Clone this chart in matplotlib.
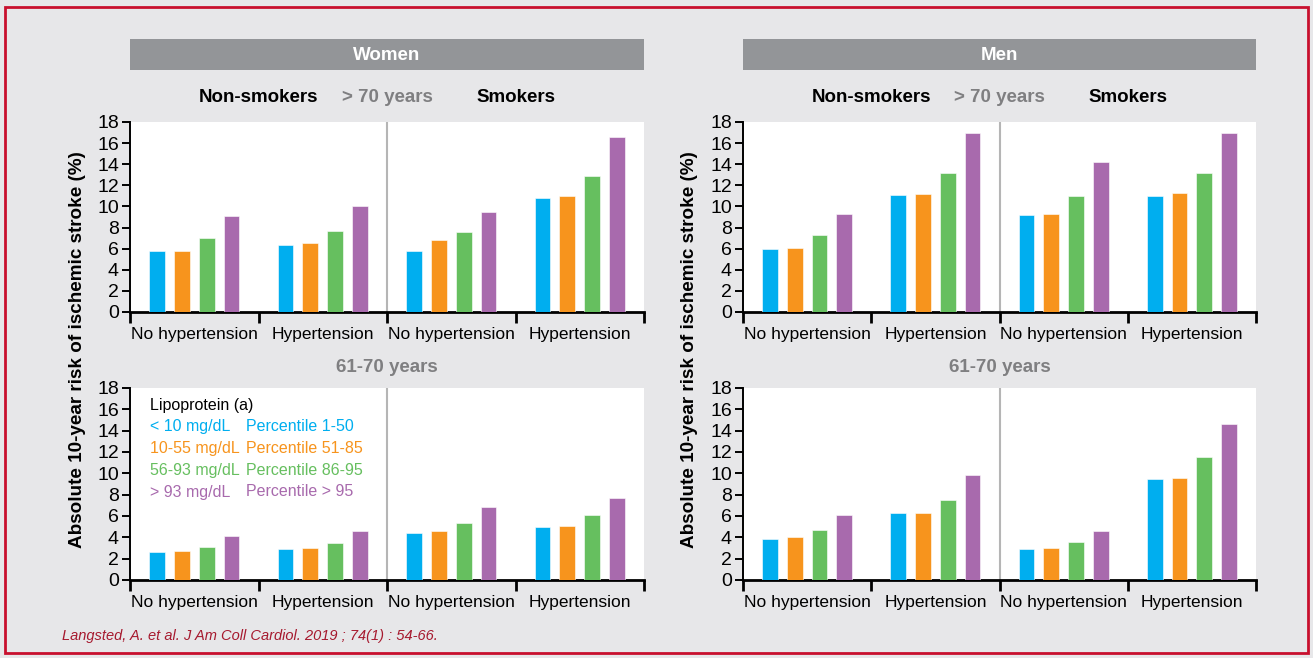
import numpy as np
import matplotlib
matplotlib.use('Agg')
import matplotlib.pyplot as plt
from matplotlib.patches import Rectangle

plt.rcParams['font.family'] = ['Liberation Sans Narrow', 'Liberation Sans', 'DejaVu Sans']

# ── data ─────────────────────────────────────────────────────────
groups = ["No hypertension", "Hypertension", "No hypertension", "Hypertension"]
series_colors = ["#00aeef", "#f7941d", "#66bf5f", "#a86aad"]
lpa_levels = ["< 10 mg/dL", "10-55 mg/dL", "56-93 mg/dL", "> 93 mg/dL"]
lpa_pct = ["Percentile 1-50", "Percentile 51-85", "Percentile 86-95", "Percentile > 95"]

# rows = group (NS no HT, NS HT, S no HT, S HT), cols = Lp(a) category
women_over70 = [[5.8, 5.8, 7.0, 9.1],
                [6.3, 6.5, 7.7, 10.0],
                [5.8, 6.8, 7.6, 9.5],
                [10.8, 11.0, 12.9, 16.6]]
women_61_70 = [[2.6, 2.7, 3.1, 4.1],
               [2.9, 3.0, 3.5, 4.6],
               [4.4, 4.6, 5.3, 6.8],
               [5.0, 5.1, 6.1, 7.7]]
men_over70 = [[6.0, 6.1, 7.3, 9.3],
              [11.1, 11.2, 13.2, 17.0],
              [9.2, 9.3, 11.0, 14.2],
              [11.0, 11.3, 13.2, 17.0]]
men_61_70 = [[3.8, 4.0, 4.7, 6.1],
             [6.3, 6.3, 7.5, 9.8],
             [2.9, 3.0, 3.6, 4.6],
             [9.5, 9.6, 11.5, 14.6]]

W, H = 1313, 658
BG = "#e7e7e9"
RED = "#c8102e"
GREY_TXT = "#7f7f81"

fig = plt.figure(figsize=(W / 100, H / 100), dpi=100, facecolor=BG)


def fx(x):
    return x / W


def fy(y):
    return 1 - y / H


def add_ax(x0, x1, y0, y1):
    return fig.add_axes([fx(x0), fy(y1), fx(x1) - fx(x0), (y1 - y0) / H])


def draw_panel(ax, values):
    values = np.array(values)
    offsets = np.array([-0.29, -0.097, 0.097, 0.29])
    for k in range(4):
        ax.bar(np.arange(4) + 0.5 + offsets[k], values[:, k], width=0.122,
               color=series_colors[k], edgecolor="white", linewidth=0.4, zorder=3)
    ax.set_xlim(0, 4)
    ax.set_ylim(0, 18)
    ax.set_facecolor("white")
    ax.axvline(2, color="#b5b5b5", linewidth=1.5, zorder=2)
    for s in ["top", "right"]:
        ax.spines[s].set_visible(False)
    ax.spines["bottom"].set_linewidth(2.0)
    ax.spines["left"].set_linewidth(1.4)
    ax.set_yticks(np.arange(0, 19, 2))
    ax.tick_params(axis="y", labelsize=14, length=6, width=1.4, pad=2)
    ax.set_xticks([0, 1, 2, 3, 4])
    ax.set_xticklabels([])
    ax.tick_params(axis="x", length=8, width=2.0)
    ax.set_xticks(np.arange(4) + 0.5, minor=True)
    ax.set_xticklabels(groups, minor=True, fontsize=12.5)
    ax.tick_params(axis="x", which="minor", length=0, pad=11)


panels = [
    (130, 644, women_over70, women_61_70, "Women", 78),
    (743, 1256, men_over70, men_61_70, "Men", 689),
]

for x0, x1, top_vals, bot_vals, title, ylab_x in panels:
    ax_top = add_ax(x0, x1, 122, 312)
    ax_bot = add_ax(x0, x1, 388, 580)
    draw_panel(ax_top, top_vals)
    draw_panel(ax_bot, bot_vals)

    # grey header bar
    fig.patches.append(Rectangle((fx(x0), fy(70)), fx(x1) - fx(x0), 31 / H,
                                 transform=fig.transFigure, facecolor="#939598",
                                 edgecolor="none"))
    xm = (x0 + x1) / 2
    fig.text(fx(xm), fy(55), title, color="white", fontsize=13.5,
             fontweight="bold", ha="center", va="center")
    fig.text(fx((x0 + xm) / 2), fy(97), "Non-smokers", fontsize=13.5,
             fontweight="bold", ha="center", va="center")
    fig.text(fx(xm), fy(97), "> 70 years", fontsize=13.5, color=GREY_TXT,
             fontweight="bold", ha="center", va="center")
    fig.text(fx((xm + x1) / 2), fy(97), "Smokers", fontsize=13.5,
             fontweight="bold", ha="center", va="center")
    fig.text(fx(xm), fy(367), "61-70 years", fontsize=13.5, color=GREY_TXT,
             fontweight="bold", ha="center", va="center")
    fig.text(fx(ylab_x), fy(350), "Absolute 10-year risk of ischemic stroke (%)",
             fontsize=13.6, fontweight="bold", rotation=90, ha="center", va="center")

    if title == "Women":
        ax_bot.text(0.155, 16.4, "Lipoprotein (a)", fontsize=11.5, va="center", zorder=5)
        rows_y = [14.4, 12.35, 10.3, 8.25]
        for k in range(4):
            ax_bot.text(0.155, rows_y[k], lpa_levels[k], color=series_colors[k],
                        fontsize=11.5, va="center", zorder=5)
            ax_bot.text(0.9, rows_y[k], lpa_pct[k], color=series_colors[k],
                        fontsize=11.5, va="center", zorder=5)

fig.text(fx(62), fy(636), "Langsted, A. et al. J Am Coll Cardiol. 2019 ; 74(1) : 54-66.",
         fontsize=10.5, style="italic", color="#a6192e", ha="left", va="center")

# red frame
fig.patches.append(Rectangle((fx(5), fy(653)), fx(1308) - fx(5), 646 / H,
                             transform=fig.transFigure, facecolor="none",
                             edgecolor=RED, linewidth=2))

fig.savefig("out.png", dpi=100, facecolor=BG)
